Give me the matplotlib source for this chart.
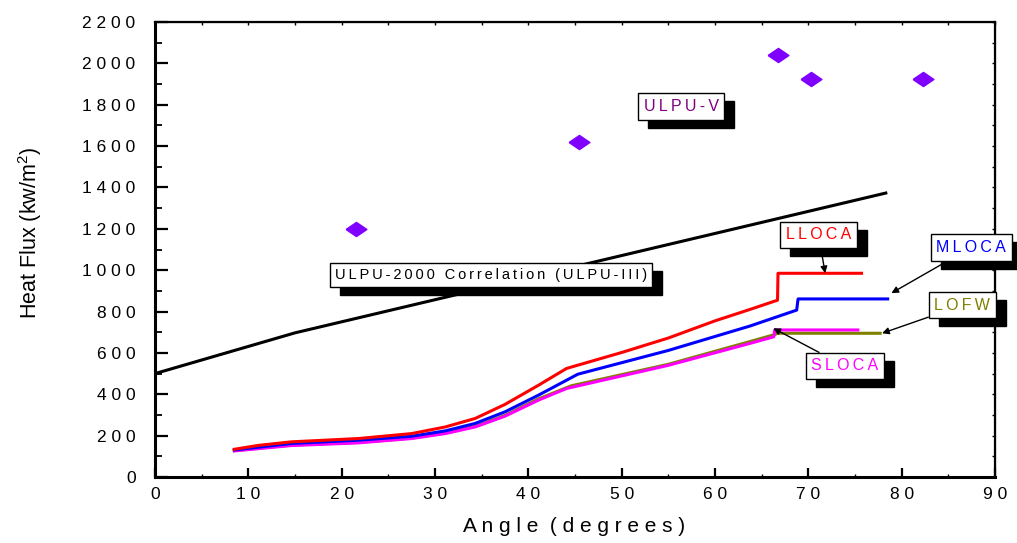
import numpy as np
import matplotlib
matplotlib.use("Agg")
from matplotlib import pyplot as plt
from matplotlib.patches import Rectangle
from matplotlib.ticker import MultipleLocator, FuncFormatter

plt.rcParams["font.family"] = ["Liberation Sans", "DejaVu Sans"]
plt.rcParams["mathtext.fontset"] = "custom"
plt.rcParams["mathtext.rm"] = "Liberation Sans"

# ---------------------------------------------------------------- data
corr_angle = [0, 15, 78.3]
corr_flux = [500, 697, 1373]

ulpu5_angle = [21.5, 45.4, 66.75, 70.3, 82.3]
ulpu5_flux = [1200, 1620, 2040, 1922, 1922]

lloca_angle = [8.5, 11.1, 14.6, 21.8, 27.5, 31.1, 34.3, 37.5, 41.1, 44.1,
               50, 55, 60, 63.8, 66.7, 66.75, 75.7]
lloca_flux = [134, 153, 170, 186, 210, 242, 283, 351, 444, 525,
              602, 672, 755, 811, 855, 985, 985]

mloca_angle = [8.5, 14.6, 21.8, 27.5, 31.1, 34.3, 37.5, 41.1, 45.3,
               55, 63.75, 68.75, 68.9, 78.5]
mloca_flux = [131, 162, 178, 197, 223, 259, 315, 396, 497,
              612, 730, 807, 861, 861]

lofw_angle = [8.5, 14.6, 21.8, 27.5, 31.1, 34.3, 37.5, 41.1, 44.6,
              55, 63.75, 66.5, 66.6, 77.7]
lofw_flux = [128, 154, 167, 188, 212, 245, 298, 378, 441,
             545, 655, 690, 695, 695]

sloca_angle = [8.5, 14.6, 21.8, 27.5, 31.1, 34.3, 37.5, 41.1, 44.1,
               55, 63.75, 66.3, 66.4, 75.3]
sloca_flux = [126, 152, 165, 186, 210, 242, 294, 372, 428,
              540, 646, 678, 711, 711]

# ---------------------------------------------------------------- figure
fig = plt.figure(figsize=(10.17, 5.43), dpi=100)
ax = fig.add_axes([155 / 1017, 1 - 477 / 543, 840 / 1017, 455 / 543])
ax.set_xlim(0, 90)
ax.set_ylim(0, 2200)

ax.plot(corr_angle, corr_flux, color="black", lw=2.2, zorder=3)
ax.plot(lofw_angle, lofw_flux, color="#808000", lw=2.2, zorder=3)
ax.plot(sloca_angle, sloca_flux, color="#ff00ff", lw=2.2, zorder=3)
ax.plot(mloca_angle, mloca_flux, color="#0000ff", lw=2.2, zorder=3)
ax.plot(lloca_angle, lloca_flux, color="#ff0000", lw=2.2, zorder=3)

diamond = [(-1, 0), (0, 0.68), (1, 0), (0, -0.68), (-1, 0)]
ax.plot(ulpu5_angle, ulpu5_flux, ls="none", marker=diamond, ms=15,
        color="#8000ff", mec="#8000ff", zorder=4)

# ---------------------------------------------------------------- axes styling
for side in ["left", "bottom"]:
    ax.spines[side].set_linewidth(2.2)
for side in ["top", "right"]:
    ax.spines[side].set_linewidth(1.6)


def spaced_num(v, pos):
    return " ".join(f"{v:.0f}")


ax.xaxis.set_major_locator(MultipleLocator(10))
ax.xaxis.set_minor_locator(MultipleLocator(5))
ax.yaxis.set_major_locator(MultipleLocator(200))
ax.yaxis.set_minor_locator(MultipleLocator(100))
ax.xaxis.set_major_formatter(FuncFormatter(spaced_num))
ax.yaxis.set_major_formatter(FuncFormatter(spaced_num))
ax.xaxis.set_tick_params(which="major", direction="in", length=6.5, width=1.6,
                         labelsize=12.5, pad=7, top=False)
ax.xaxis.set_tick_params(which="minor", direction="in", length=2, width=1, top=False)
ax.yaxis.set_tick_params(which="major", direction="in", length=9.5, width=1.6,
                         labelsize=12.5, pad=14, right=False)
ax.yaxis.set_tick_params(which="minor", direction="in", length=5, width=1.3, right=False)

top = ax.secondary_xaxis("top")
top.xaxis.set_major_locator(MultipleLocator(5))
top.tick_params(direction="in", length=2.5, width=1, labeltop=False)
right = ax.secondary_yaxis("right")
right.yaxis.set_major_locator(MultipleLocator(100))
right.tick_params(direction="in", length=2.5, width=1, labelright=False)

fig.text(574 / 1017, 1 - 527 / 543, " ".join("Angle (degrees)").replace("   ", "  "),
         ha="center", va="center", fontsize=15)
fig.text(30 / 1017, 1 - 233 / 543, "Heat Flux (kw/m$^2$)", rotation=90,
         ha="center", va="center", fontsize=15.5)


# ---------------------------------------------------------------- labels with drop shadow
def spaced(s):
    # letter tracking with thin spaces; word gaps stay a bit wider
    return "\u2009".join(s)


labels = []


def boxed(text, color, xytext, xy=None, size=11.5):
    bbox = dict(boxstyle="square,pad=0.35", fc="white", ec="black", lw=1)
    if xy is None:
        t = ax.text(*xytext, spaced(text), color=color, fontsize=size,
                    ha="center", va="center", bbox=bbox, zorder=6)
    else:
        t = ax.annotate(spaced(text), xy=xy, xytext=xytext, color=color, fontsize=size,
                        ha="center", va="center", bbox=bbox, zorder=6,
                        annotation_clip=False,
                        arrowprops=dict(arrowstyle="-|>", color="black", lw=1,
                                        mutation_scale=10, shrinkA=0, shrinkB=0))
    labels.append(t)


boxed("ULPU-V", "#800080", (56.4, 1791))
boxed("ULPU-2000 Correlation (ULPU-III)", "black", (36.0, 975), size=10.5)
boxed("LLOCA", "#ff0000", (71.1, 1172), (71.8, 985))
boxed("MLOCA", "#0000ff", (87.45, 1110), (78.9, 889))
boxed("LOFW", "#808000", (86.5, 830), (77.9, 695))
boxed("SLOCA", "#ff00ff", (73.9, 537), (66.25, 719))

# black drop shadows, 10 px right and 8 px down from each box
fig.canvas.draw()
for t in labels:
    bb = t.get_bbox_patch().get_window_extent()
    ax.add_artist(Rectangle((bb.x0 + 10, bb.y0 - 8), bb.width, bb.height,
                            transform=None, fc="black", ec="black", zorder=5,
                            clip_on=False))

fig.savefig("out.png", dpi=100, facecolor="white")
